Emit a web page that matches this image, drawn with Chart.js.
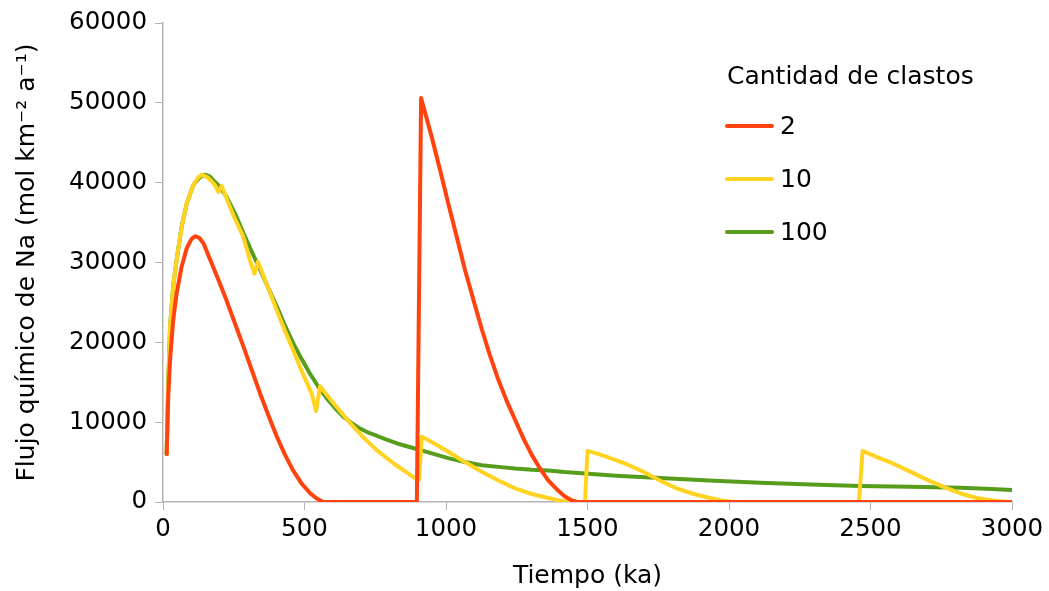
<!DOCTYPE html>
<html>
<head>
<meta charset="utf-8">
<script src="https://cdn.jsdelivr.net/npm/chart.js@4.4.1/dist/chart.umd.min.js"></script>
<style>
  html, body { margin: 0; padding: 0; background: #fff; }
  #wrap { width: 1049px; height: 591px; }
</style>
</head>
<body>
<div id="wrap"><canvas id="myChart" width="1049" height="591"></canvas></div>
<script>
// Tiempo (ka) y flujo (mol km-2 a-1) para cada cantidad de clastos
const seriesLabels = ["2", "10", "100"];
const seriesColors = ["#ff420e", "#ffd320", "#579d1c"];

const t2 = [13, 16, 19, 25, 36, 48, 66, 84, 100, 113, 128, 143, 166, 195, 225, 255, 284, 314, 343, 373, 402, 430, 459, 490, 520, 545, 566,
    897, 912, 949, 979, 1008, 1038, 1067, 1097, 1126, 1155, 1185, 1214, 1244, 1273, 1303, 1332, 1361, 1391, 1420, 1445, 1465, 3000];
const flujo2 = [6000, 10000, 13600, 17800, 22800, 26100, 29500, 31800, 32900, 33300, 33100, 32400, 30400, 27900, 25200, 22300, 19500, 16500, 13600, 10800, 8200, 6000, 4000, 2300, 1100, 400, 0,
    0, 50600, 45800, 41600, 37400, 33200, 29100, 25300, 21700, 18400, 15300, 12700, 10300, 8000, 5900, 4200, 2700, 1600, 700, 200, 0, 0];

const t10 = [13, 16, 19, 25, 36, 48, 66, 84, 107, 125, 138, 160, 184, 196, 207, 225, 250, 284, 307, 323, 335, 370, 402, 430, 460, 490, 525, 541, 555,
    600, 661, 708, 755, 820, 890, 905, 914, 960, 1008, 1067, 1126, 1185, 1244, 1303, 1361, 1400, 1432,
    1491, 1500, 1540, 1580, 1640, 1697, 1756, 1815, 1875, 1933, 1975, 2015,
    2459, 2472, 2525, 2581, 2640, 2699, 2758, 2816, 2875, 2934, 2986, 3000];
const flujo10 = [6000, 11000, 15500, 22000, 27000, 30300, 34500, 37400, 39700, 40700, 41000, 40600, 39700, 38800, 39600, 38000, 35800, 33200, 30300, 28600, 30100, 27000, 24000, 21500, 19000, 16400, 13600, 11400, 14500,
    12500, 9900, 8100, 6500, 4700, 3000, 2800, 8200, 7300, 6300, 5000, 3800, 2700, 1700, 1000, 500, 200, 0,
    0, 6400, 6000, 5500, 4700, 3800, 2700, 1700, 1000, 500, 200, 0,
    0, 6400, 5600, 4800, 3800, 2800, 1900, 1100, 500, 200, 0, 0];

const t100 = [13, 16, 19, 25, 36, 48, 66, 84, 107, 131, 148, 165, 178, 200, 225, 255, 284, 313, 343, 372, 402, 431, 460, 490, 519, 548, 578, 607, 637, 666, 696, 725, 755, 790, 830, 890, 950,
    1008, 1067, 1126, 1185, 1244, 1303, 1361, 1420, 1479, 1600, 1756, 1930, 2110, 2290, 2463, 2640, 2816, 2910, 3000];
const flujo100 = [6000, 11000, 15500, 22000, 27000, 30300, 34500, 37400, 39700, 40700, 41000, 40800, 40300, 39500, 38200, 36100, 33700, 31400, 29100, 26800, 24500, 22100, 19900, 17900, 16100, 14500, 13000, 11800, 10700, 9900, 9200, 8700, 8300, 7800, 7300, 6700, 6100,
    5500, 5000, 4600, 4400, 4200, 4050, 3950, 3750, 3600, 3300, 3000, 2700, 2400, 2200, 2000, 1900, 1800, 1650, 1500];

const xTicks = [0, 500, 1000, 1500, 2000, 2500, 3000];
const legendTitle = "Cantidad de clastos";

function toPoints(xs, ys) {
    return xs.map((x, i) => ({ x: x, y: ys[i] }));
}

const fontFamily = "'DejaVu Sans', Verdana, sans-serif";

// leyenda dibujada dentro del área del gráfico
const insideLegend = {
    id: 'insideLegend',
    afterDraw(chart) {
        const c = chart.ctx;
        c.save();
        c.font = "25px " + fontFamily;
        c.fillStyle = "#000";
        c.textBaseline = "middle";
        c.textAlign = "left";
        c.fillText(legendTitle, 727, 77);
        chart.data.datasets.forEach((ds, i) => {
            const y = 126 + i * 53;
            c.strokeStyle = ds.borderColor;
            c.lineWidth = 4;
            c.lineCap = "round";
            c.beginPath();
            c.moveTo(727, y);
            c.lineTo(772, y);
            c.stroke();
            c.fillText(ds.label, 780, y + 1);
        });
        c.restore();
    }
};

const ctx = document.getElementById("myChart");
const myChart = new Chart(ctx, {
    type: 'line',
    data: {
        datasets: [
            { label: seriesLabels[0], borderColor: seriesColors[0], data: toPoints(t2, flujo2) },
            { label: seriesLabels[1], borderColor: seriesColors[1], data: toPoints(t10, flujo10) },
            { label: seriesLabels[2], borderColor: seriesColors[2], data: toPoints(t100, flujo100) }
        ]
    },
    options: {
        responsive: false,
        animation: false,
        layout: { padding: { left: 0, right: 37, top: 23, bottom: 0 } },
        elements: {
            point: { radius: 0 },
            line: { borderWidth: 4, tension: 0, borderJoinStyle: 'round', borderCapStyle: 'round', fill: false }
        },
        plugins: {
            legend: { display: false },
            tooltip: { enabled: false }
        },
        scales: {
            x: {
                type: 'linear',
                min: 0,
                max: 3000,
                afterBuildTicks: (scale) => { scale.ticks = xTicks.map(v => ({ value: v })); },
                afterFit: (scale) => { scale.height = 89; },
                grid: { drawOnChartArea: false, color: '#b3b3b3', tickLength: 8 },
                border: { color: '#b3b3b3', width: 1.5 },
                ticks: { color: '#000', padding: 5, callback: v => String(v), font: { family: fontFamily, size: 24.5 } },
                title: {
                    display: true,
                    text: 'Tiempo (ka)',
                    color: '#000',
                    padding: { top: 0, bottom: 0 },
                    font: { family: fontFamily, size: 25 }
                }
            },
            y: {
                min: 0,
                max: 60000,
                afterFit: (scale) => { scale.width = 163; },
                grid: { drawOnChartArea: false, color: '#b3b3b3', tickLength: 8 },
                border: { color: '#b3b3b3', width: 1.5 },
                ticks: { stepSize: 10000, color: '#000', padding: 8, callback: v => String(v), font: { family: fontFamily, size: 24.5 } },
                title: {
                    display: true,
                    text: 'Flujo químico de Na (mol km⁻² a⁻¹)',
                    color: '#000',
                    padding: { top: 12, bottom: 0 },
                    font: { family: fontFamily, size: 25 }
                }
            }
        }
    },
    plugins: [insideLegend]
});
</script>
</body>
</html>
